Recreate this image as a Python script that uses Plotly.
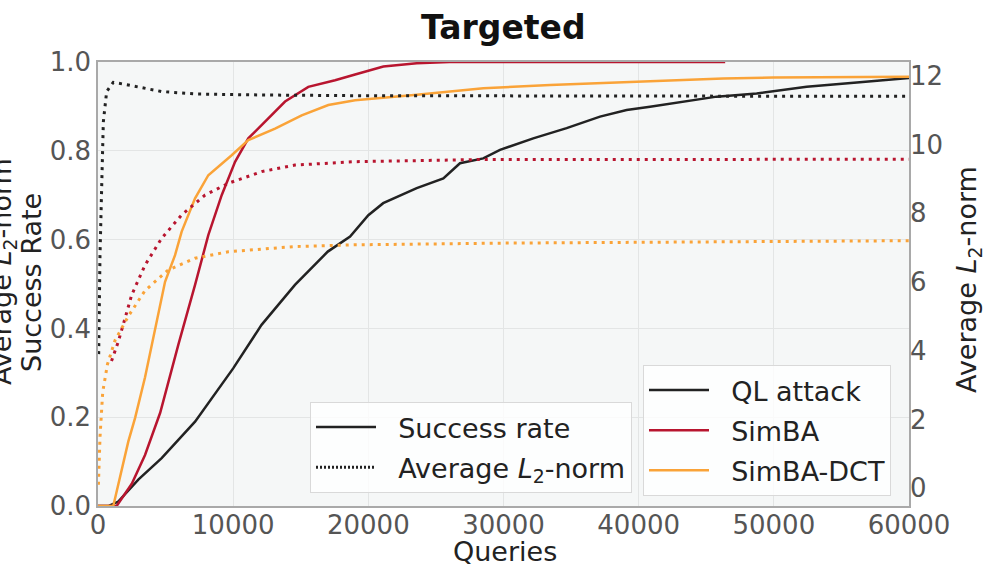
import plotly.graph_objects as go

# ---------------- data ----------------
ql_q = [0, 800, 1500, 3000, 4710, 7180, 10000, 12100, 14570, 17000, 18650, 20000, 21100,
        23580, 25550, 26780, 28500, 29740, 32200, 34670, 37140, 39110, 40840, 42550,
        45770, 48730, 52430, 56140, 60000]
ql_sr = [0.0, 0.0, 0.01, 0.06, 0.108, 0.19, 0.31, 0.408, 0.498, 0.573, 0.607, 0.655, 0.682,
         0.716, 0.738, 0.772, 0.783, 0.802, 0.828, 0.851, 0.877, 0.892, 0.899, 0.907,
         0.922, 0.929, 0.944, 0.954, 0.964]

simba_q = [0, 1380, 2500, 3480, 4600, 5940, 7180, 8160, 9150, 10140, 11120, 12110, 13840,
           15560, 17540, 19020, 21110, 23580, 26000, 46400]
simba_sr = [0.0, 0.0, 0.05, 0.115, 0.21, 0.363, 0.498, 0.61, 0.70, 0.775, 0.828, 0.858, 0.911,
            0.944, 0.959, 0.972, 0.99, 0.997, 1.0, 1.0]

dct_q = [0, 1130, 2240, 2740, 3480, 4220, 4960, 5700, 6190, 7180, 8160, 9890, 11120, 13100,
         15070, 17040, 19020, 23580, 28510, 33450, 40850, 46250, 49950, 60000]
dct_sr = [0.0, 0.0, 0.145, 0.198, 0.29, 0.40, 0.505, 0.565, 0.618, 0.693, 0.745, 0.79, 0.824,
          0.85, 0.88, 0.903, 0.914, 0.926, 0.941, 0.948, 0.957, 0.963, 0.965, 0.967]

ql_l2_q = [50, 148, 270, 395, 640, 1130, 2240, 4710, 7180, 12110, 19020, 60000]
ql_l2 = [3.9, 6.78, 8.72, 10.66, 11.54, 11.81, 11.73, 11.54, 11.47, 11.44, 11.42, 11.40]

simba_l2_q = [1000, 1500, 2000, 2490, 3480, 4710, 6190, 7920, 9640, 12110, 14570, 19020, 28000, 60000]
simba_l2 = [3.7, 4.26, 4.94, 5.62, 6.49, 7.27, 7.95, 8.53, 8.87, 9.21, 9.40, 9.50, 9.56, 9.57]

dct_l2_q = [30, 150, 350, 700, 1260, 2240, 3480, 5200, 7180, 9640, 14570, 19020, 30000, 45000, 60000]
dct_l2 = [0.1, 1.5, 2.8, 3.6, 4.3, 5.0, 5.75, 6.35, 6.69, 6.88, 7.03, 7.08, 7.13, 7.17, 7.20]

x_ticks = [0, 10000, 20000, 30000, 40000, 50000, 60000]
y_ticks = [0.0, 0.2, 0.4, 0.6, 0.8, 1.0]
y2_ticks = [0, 2, 4, 6, 8, 10, 12]

# ---------------- style ----------------
FONT = "DejaVu Sans"
BLACK = "#222222"
RED = "#b8152f"
ORANGE = "#faa338"
DOT = "3px,5px"
NB = "\u00a0\u00a0"

L, R, T, B = 98, 909, 62, 506
W, H = 994, 568


def px(x):
    return (x - L) / (R - L)


def py(y):
    return (B - y) / (B - T)


fig = go.Figure()

# success-rate curves (left axis)
for q, v, c, name, g in [(ql_q, ql_sr, BLACK, "QL attack", "a"),
                         (simba_q, simba_sr, RED, "SimBA", "b"),
                         (dct_q, dct_sr, ORANGE, "SimBA-DCT", "c")]:
    fig.add_trace(go.Scatter(x=q, y=v, mode="lines", name=NB + name, legend="legend2",
                             legendgroup=g, line=dict(color=c, width=2.5)))

# L2-norm curves (right axis)
for q, v, c in [(ql_l2_q, ql_l2, BLACK), (simba_l2_q, simba_l2, RED), (dct_l2_q, dct_l2, ORANGE)]:
    fig.add_trace(go.Scatter(x=q, y=v, mode="lines", yaxis="y2", showlegend=False,
                             line=dict(color=c, width=3, dash=DOT)))

# style legend entries
fig.add_trace(go.Scatter(x=[None], y=[None], mode="lines", name=NB + "Success rate",
                         legend="legend", legendgroup="s1", line=dict(color=BLACK, width=2.5)))
fig.add_trace(go.Scatter(x=[None], y=[None], mode="lines",
                         name=NB + "Average <i>L</i><sub>2</sub>-norm",
                         legend="legend", legendgroup="s2", line=dict(color=BLACK, width=3, dash="2px,2px")))

tickfont = dict(family=FONT, size=26, color="#555555")
frame = dict(showline=True, linecolor="#a9a9a9", linewidth=1.5, mirror=True)
legfont = dict(family=FONT, size=27, color=BLACK)
labfont = dict(family=FONT, size=27, color=BLACK)

fig.update_layout(
    width=W, height=H,
    margin=dict(l=L, r=W - R, t=T, b=H - B),
    paper_bgcolor="white", plot_bgcolor="#f5f7f7",
    font=dict(family=FONT, color=BLACK),
    xaxis=dict(range=[0, 60000], tickvals=x_ticks, ticktext=[str(v) for v in x_ticks],
               tickfont=tickfont, showgrid=True, gridcolor="#e3e5e5", gridwidth=1,
               zeroline=False, ticks="", ticklabelstandoff=-5, **frame),
    yaxis=dict(range=[0, 1], tickvals=y_ticks, ticktext=[f"{v:.1f}" for v in y_ticks],
               tickfont=tickfont, showgrid=True, gridcolor="#e3e5e5", gridwidth=1,
               zeroline=False, ticks="", **frame),
    yaxis2=dict(range=[-0.52, 12.40], tickvals=y2_ticks, ticktext=[str(v) for v in y2_ticks],
                tickfont=tickfont, overlaying="y", side="right", showgrid=False,
                zeroline=False, ticks=""),
    legend=dict(x=px(310), y=py(402), xanchor="left", yanchor="top",
                bgcolor="rgba(255,255,255,0.8)", bordercolor="#d9d9d9", borderwidth=1,
                font=legfont, itemwidth=60, tracegroupgap=2, traceorder="grouped"),
    legend2=dict(x=px(643), y=py(365), xanchor="left", yanchor="top",
                 bgcolor="rgba(255,255,255,0.8)", bordercolor="#d9d9d9", borderwidth=1,
                 font=legfont, itemwidth=60, tracegroupgap=2, traceorder="grouped"),
    annotations=[
        dict(text="<b>Targeted</b>", x=px(503), y=py(28), xref="paper", yref="paper",
             xanchor="center", yanchor="middle", showarrow=False,
             font=dict(family=FONT, size=33, color="#111111")),
        dict(text="Queries", x=px(505), y=py(551), xref="paper", yref="paper",
             xanchor="center", yanchor="middle", showarrow=False, font=labfont),
        dict(text="Success Rate", x=px(31), y=py(283), xref="paper", yref="paper",
             xanchor="center", yanchor="middle", textangle=-90, showarrow=False, font=labfont),
        dict(text="Average <i>L</i><sub>2</sub>-norm", x=px(3), y=py(272), xref="paper", yref="paper",
             xanchor="center", yanchor="middle", textangle=-90, showarrow=False, font=labfont),
        dict(text="Average <i>L</i><sub>2</sub>-norm", x=px(968), y=py(280), xref="paper", yref="paper",
             xanchor="center", yanchor="middle", textangle=-90, showarrow=False, font=labfont),
    ],
)

fig.write_html("out.html")
